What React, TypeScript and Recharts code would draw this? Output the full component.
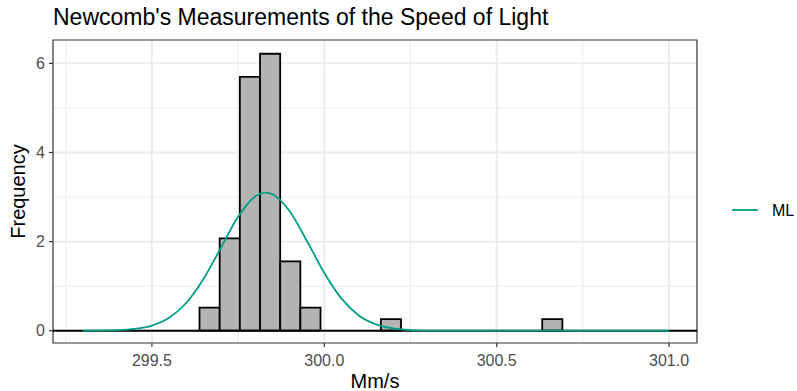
import {
  CartesianGrid,
  ComposedChart,
  Legend,
  Line,
  ReferenceArea,
  ReferenceLine,
  XAxis,
  YAxis,
} from "recharts";

// histogram bins (Mm/s) and density heights
const binStart = [299.638, 299.6965, 299.755, 299.8135, 299.872, 299.9305, 300.164, 300.632];
const binEnd = [299.6965, 299.755, 299.8135, 299.872, 299.9305, 299.989, 300.2225, 300.6905];
const binDensity = [0.518, 2.072, 5.698, 6.216, 1.554, 0.518, 0.259, 0.259];

// ML normal curve
const curveX = [
  299.3, 299.4, 299.45, 299.5, 299.55, 299.6, 299.65, 299.7, 299.75, 299.8, 299.83, 299.85,
  299.9, 299.95, 300.0, 300.05, 300.1, 300.15, 300.2, 300.25, 300.3, 300.4, 300.5, 300.6,
  300.7, 300.8, 300.9, 301.0,
];
const curveY = [
  0.001, 0.012, 0.04, 0.116, 0.291, 0.628, 1.166, 1.861, 2.555, 3.017, 3.1, 3.063,
  2.674, 2.007, 1.296, 0.719, 0.343, 0.141, 0.05, 0.015, 0.004, 0, 0, 0,
  0, 0, 0, 0,
];

const xTicks = [299.5, 300.0, 300.5, 301.0];
const xMinor = [299.25, 299.75, 300.25, 300.75];
const yTicks = [0, 2, 4, 6];
const yMinor = [1, 3, 5];

const xDomain: [number, number] = [299.213, 301.081];
const yDomain: [number, number] = [-0.276, 6.525];

const TEAL = "#009E89";
const FONT = "'Liberation Sans', Arial, sans-serif";

const curveData = curveX.map((x, i) => ({ x, density: curveY[i] }));

function LegendContent() {
  return (
    <svg width={70} height={24}>
      <line x1={7} x2={33} y1={11} y2={11} stroke={TEAL} strokeWidth={1.8} />
      <text x={47} y={17} fontSize={16} fill="#000" fontFamily={FONT}>
        ML
      </text>
    </svg>
  );
}

export default function App() {
  const tick = { fill: "#4D4D4D", fontSize: 16, fontFamily: FONT };
  return (
    <div
      style={{
        position: "absolute",
        left: 0,
        top: 0,
        width: 797,
        height: 391,
        background: "#fff",
        fontFamily: FONT,
      }}
    >
      <ComposedChart
        width={797}
        height={391}
        data={curveData}
        margin={{ top: 40, right: 30, bottom: 0, left: 0 }}
      >
        <CartesianGrid
          stroke="#EBEBEB"
          strokeWidth={1}
          verticalValues={xMinor}
          horizontalValues={yMinor}
        />
        <CartesianGrid
          stroke="#EBEBEB"
          strokeWidth={1.9}
          verticalValues={xTicks}
          horizontalValues={yTicks}
        />
        <XAxis
          dataKey="x"
          type="number"
          domain={xDomain}
          allowDataOverflow
          ticks={xTicks}
          tickFormatter={(v) => Number(v).toFixed(1)}
          tick={tick}
          tickLine={{ stroke: "#333333", strokeWidth: 1.2 }}
          tickSize={4}
          tickMargin={8}
          axisLine={false}
          height={48}
        />
        <YAxis
          type="number"
          domain={yDomain}
          allowDataOverflow
          ticks={yTicks}
          tick={tick}
          tickLine={{ stroke: "#333333", strokeWidth: 1.2 }}
          tickSize={4}
          tickMargin={4}
          axisLine={false}
          width={53}
        />
        {binStart.map((s, i) => (
          <ReferenceArea
            key={i}
            x1={s}
            x2={binEnd[i]}
            y1={0}
            y2={binDensity[i]}
            fill="#B3B3B3"
            fillOpacity={1}
            stroke="#000"
            strokeWidth={1.8}
          />
        ))}
        <ReferenceLine y={0} stroke="#000" strokeWidth={2} />
        <ReferenceArea
          x1={xDomain[0]}
          x2={xDomain[1]}
          y1={yDomain[0]}
          y2={yDomain[1]}
          fill="none"
          stroke="#333333"
          strokeWidth={1.2}
        />
        <Line
          dataKey="density"
          name="ML"
          type="monotone"
          stroke={TEAL}
          strokeWidth={1.8}
          dot={false}
          activeDot={false}
          isAnimationActive={false}
        />
        <Legend
          layout="vertical"
          align="right"
          verticalAlign="top"
          content={() => <LegendContent />}
          wrapperStyle={{ left: 725, top: 199, width: 70 }}
        />
      </ComposedChart>
      <svg
        width={797}
        height={391}
        style={{ position: "absolute", left: 0, top: 0, pointerEvents: "none" }}
      >
        <text x={53} y={25} fontSize={23} fill="#000" fontFamily={FONT}>
          Newcomb's Measurements of the Speed of Light
        </text>
        <text
          x={375}
          y={388}
          fontSize={20}
          fill="#000"
          textAnchor="middle"
          fontFamily={FONT}
        >
          Mm/s
        </text>
        <text
          transform="translate(25,191.5) rotate(-90)"
          fontSize={20}
          fill="#000"
          textAnchor="middle"
          fontFamily={FONT}
        >
          Frequency
        </text>
      </svg>
    </div>
  );
}
